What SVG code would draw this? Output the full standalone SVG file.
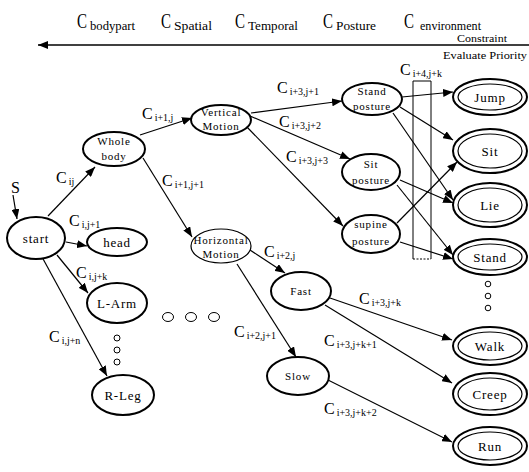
<svg xmlns="http://www.w3.org/2000/svg" width="529" height="472" viewBox="0 0 529 472">
<style>
.n{fill:#fff;stroke:#000;stroke-width:2}
.thin{fill:#fff;stroke:#000;stroke-width:1.2}
.t{font-family:"Liberation Serif",serif;font-size:13px;text-anchor:middle;letter-spacing:0.8px}
.s{font-family:"Liberation Serif",serif;font-size:11px;text-anchor:middle;letter-spacing:0.8px}
.c{font-family:"Liberation Serif",serif;font-size:16px}
.c tspan.b{font-size:10px}
.h{font-family:"Liberation Serif",serif;font-size:20px}
.hb{font-family:"Liberation Serif",serif;font-size:13px}
.e{stroke:#000;stroke-width:1.2;fill:none;marker-end:url(#a)}
.dot{fill:#fff;stroke:#000;stroke-width:1}
</style>
<defs>
<marker id="a" viewBox="0 0 10 8" refX="10" refY="4" markerWidth="10" markerHeight="8" markerUnits="userSpaceOnUse" orient="auto">
<path d="M0,0 L10,4 L0,8 Z" fill="#000"/>
</marker>
</defs>
<rect width="529" height="472" fill="#fff"/>

<g id="header">
<text class="h" x="77" y="28" textLength="10" lengthAdjust="spacingAndGlyphs">C</text>
<text class="hb" x="90" y="30" textLength="45" lengthAdjust="spacingAndGlyphs">bodypart</text>
<text class="h" x="161" y="28" textLength="10" lengthAdjust="spacingAndGlyphs">C</text>
<text class="hb" x="174" y="30" textLength="38" lengthAdjust="spacingAndGlyphs">Spatial</text>
<text class="h" x="235" y="28" textLength="10" lengthAdjust="spacingAndGlyphs">C</text>
<text class="hb" x="248" y="30" textLength="50" lengthAdjust="spacingAndGlyphs">Temporal</text>
<text class="h" x="323" y="28" textLength="10" lengthAdjust="spacingAndGlyphs">C</text>
<text class="hb" x="336" y="30" textLength="40" lengthAdjust="spacingAndGlyphs">Posture</text>
<text class="h" x="404" y="28" textLength="10" lengthAdjust="spacingAndGlyphs">C</text>
<text class="hb" x="420" y="30" textLength="61" lengthAdjust="spacingAndGlyphs">environment</text>
<line x1="529" y1="45" x2="38" y2="45" stroke="#000" stroke-width="1.5" marker-end="url(#a)"/>
<text x="457" y="42" font-family="Liberation Serif,serif" font-size="11" textLength="50" lengthAdjust="spacingAndGlyphs">Constraint</text>
<text x="443" y="59" font-family="Liberation Serif,serif" font-size="11" textLength="84" lengthAdjust="spacingAndGlyphs">Evaluate Priority</text>
</g>

<g id="connectors">
<line class="e" x1="13" y1="195" x2="17" y2="219"/>
<line class="e" x1="48" y1="216" x2="95" y2="167"/>
<line class="e" x1="66" y1="242" x2="87" y2="246"/>
<line class="e" x1="57" y1="255" x2="88" y2="293"/>
<line class="e" x1="42" y1="257" x2="107" y2="376"/>
<line class="e" x1="140" y1="135" x2="192" y2="118"/>
<line class="e" x1="143" y1="158" x2="192" y2="237"/>
<line class="e" x1="251" y1="113" x2="342" y2="101"/>
<line class="e" x1="250" y1="116" x2="350" y2="159"/>
<line class="e" x1="246" y1="126" x2="343" y2="226"/>
<line class="e" x1="402" y1="97" x2="453" y2="92"/>
<line class="e" x1="400" y1="107" x2="453" y2="140"/>
<line class="e" x1="393" y1="113" x2="453" y2="200"/>
<line class="e" x1="400" y1="180" x2="453" y2="203"/>
<line class="e" x1="397" y1="185" x2="453" y2="255"/>
<line class="e" x1="397" y1="223" x2="457" y2="162"/>
<line class="e" x1="400" y1="242" x2="453" y2="259"/>
<line class="e" x1="250" y1="250" x2="285" y2="273"/>
<line class="e" x1="237" y1="264" x2="296" y2="357"/>
<line class="e" x1="330" y1="298" x2="452" y2="340"/>
<line class="e" x1="325" y1="305" x2="452" y2="383"/>
<line class="e" x1="328" y1="380" x2="452" y2="442"/>
<path d="M413,259 L413,81 L431,81 L431,259" fill="none" stroke="#000" stroke-width="1"/>
<line x1="413" y1="259" x2="431" y2="259" stroke="#000" stroke-width="1" stroke-dasharray="2,1.5"/>
</g>

<g id="labels">
<text class="c" x="11" y="193" font-size="15">S</text>
<text class="c" x="56" y="183">C<tspan class="b" dx="2" dy="2">ij</tspan></text>
<text class="c" x="69" y="226">C<tspan class="b" dx="2" dy="2">i,j+1</tspan></text>
<text class="c" x="76" y="278">C<tspan class="b" dx="2" dy="2">i,j+k</tspan></text>
<text class="c" x="49" y="342">C<tspan class="b" dx="2" dy="2">i,j+n</tspan></text>
<text class="c" x="142" y="119">C<tspan class="b" dx="2" dy="2">i+1,j</tspan></text>
<text class="c" x="162" y="186">C<tspan class="b" dx="2" dy="2">i+1,j+1</tspan></text>
<text class="c" x="277" y="93">C<tspan class="b" dx="2" dy="2">i+3,j+1</tspan></text>
<text class="c" x="279" y="127">C<tspan class="b" dx="2" dy="2">i+3,j+2</tspan></text>
<text class="c" x="286" y="162">C<tspan class="b" dx="2" dy="2">i+3,j+3</tspan></text>
<text class="c" x="400" y="75">C<tspan class="b" dx="2" dy="2">i+4,j+k</tspan></text>
<text class="c" x="264" y="257">C<tspan class="b" dx="2" dy="2">i+2,j</tspan></text>
<text class="c" x="234" y="337">C<tspan class="b" dx="2" dy="2">i+2,j+1</tspan></text>
<text class="c" x="359" y="304">C<tspan class="b" dx="2" dy="2">i+3,j+k</tspan></text>
<text class="c" x="324" y="346">C<tspan class="b" dx="2" dy="2">i+3,j+k+1</tspan></text>
<text class="c" x="324" y="414">C<tspan class="b" dx="2" dy="2">i+3,j+k+2</tspan></text>
</g>

<g id="dots">
<circle class="dot" cx="117" cy="338" r="3"/>
<circle class="dot" cx="117" cy="350" r="3"/>
<circle class="dot" cx="117" cy="362" r="3"/>
<ellipse class="dot" cx="168" cy="317" rx="5.5" ry="4.5"/>
<ellipse class="dot" cx="191" cy="317" rx="5.5" ry="4.5"/>
<ellipse class="dot" cx="214" cy="317" rx="5.5" ry="4.5"/>
<circle class="dot" cx="488" cy="284" r="2.8"/>
<circle class="dot" cx="488" cy="296" r="2.8"/>
<circle class="dot" cx="488" cy="308" r="2.8"/>
</g>

<g id="start"><ellipse class="n" cx="36" cy="238" rx="29" ry="21"/><text class="t" x="36" y="243">start</text></g>
<g id="wholebody"><ellipse class="n" cx="114" cy="149" rx="31" ry="17"/><text class="s" x="114" y="145">Whole</text><text class="s" x="114" y="160">body</text></g>
<g id="head"><ellipse class="n" cx="117" cy="242" rx="30" ry="14"/><text class="t" x="117" y="247">head</text></g>
<g id="larm"><ellipse class="n" cx="117" cy="303" rx="30" ry="20"/><text class="t" x="117" y="308">L-Arm</text></g>
<g id="rleg"><ellipse class="n" cx="123" cy="395" rx="31" ry="20"/><text class="t" x="123" y="400">R-Leg</text></g>
<g id="vertical"><ellipse class="n" cx="221" cy="120" rx="30" ry="15"/><text class="s" x="221" y="116" font-size="10">Vertical</text><text class="s" x="221" y="130" font-size="10">Motion</text></g>
<g id="horizontal"><ellipse class="thin" cx="221" cy="246" rx="30" ry="17"/><text class="s" x="221" y="244" font-size="9.5">Horizontal</text><text class="s" x="221" y="258" font-size="9.5">Motion</text></g>
<g id="standposture"><ellipse class="n" cx="372" cy="99" rx="30" ry="16"/><text class="s" x="372" y="95">Stand</text><text class="s" x="372" y="110">posture</text></g>
<g id="sitposture"><ellipse class="n" cx="371" cy="172" rx="29" ry="18"/><text class="s" x="371" y="168">Sit</text><text class="s" x="371" y="184">posture</text></g>
<g id="supineposture"><ellipse class="n" cx="371" cy="234" rx="29" ry="19"/><text class="s" x="371" y="228">supine</text><text class="s" x="371" y="245">posture</text></g>
<g id="fast"><ellipse class="n" cx="301" cy="291" rx="30" ry="19"/><text class="s" x="301" y="295">Fast</text></g>
<g id="slow"><ellipse class="n" cx="298" cy="376" rx="31" ry="19"/><text class="s" x="298" y="380">Slow</text></g>

<g id="jump"><ellipse class="n" cx="490" cy="97" rx="37" ry="18"/><ellipse class="thin" cx="490" cy="97" rx="32" ry="13"/><text class="t" x="490" y="102">Jump</text></g>
<g id="sit"><ellipse class="n" cx="490" cy="151" rx="37" ry="22"/><ellipse class="thin" cx="490" cy="151" rx="32" ry="17"/><text class="t" x="490" y="156">Sit</text></g>
<g id="lie"><ellipse class="n" cx="490" cy="205" rx="37" ry="22"/><ellipse class="thin" cx="490" cy="205" rx="32" ry="17"/><text class="t" x="490" y="210">Lie</text></g>
<g id="stand"><ellipse class="n" cx="490" cy="257" rx="37" ry="18"/><ellipse class="thin" cx="490" cy="257" rx="32" ry="13"/><text class="t" x="490" y="262">Stand</text></g>
<g id="walk"><ellipse class="n" cx="490" cy="346" rx="37" ry="19"/><ellipse class="thin" cx="490" cy="346" rx="32" ry="14"/><text class="t" x="490" y="351">Walk</text></g>
<g id="creep"><ellipse class="n" cx="490" cy="394" rx="37" ry="21"/><ellipse class="thin" cx="490" cy="394" rx="32" ry="16"/><text class="t" x="490" y="399">Creep</text></g>
<g id="run"><ellipse class="n" cx="490" cy="446" rx="37" ry="19"/><ellipse class="thin" cx="490" cy="446" rx="32" ry="14"/><text class="t" x="490" y="451">Run</text></g>
</svg>
